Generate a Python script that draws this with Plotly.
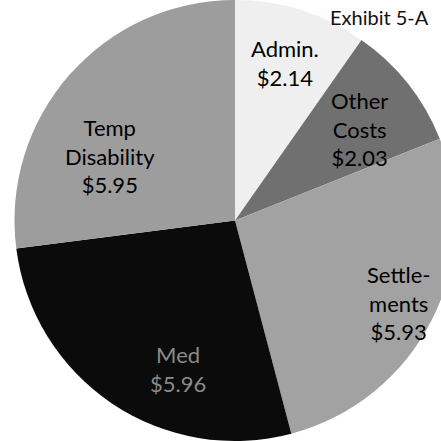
import math
import plotly.graph_objects as go

categories = ["Admin.", "Other<br>Costs", "Settle-<br>ments", "Med", "Temp<br>Disability"]
values = [2.14, 2.03, 5.93, 5.96, 5.95]
colors = ["#efefef", "#707070", "#a2a2a2", "#0b0b0b", "#9d9d9d"]
text_colors = ["#000000", "#000000", "#000000", "#8a8a8a", "#000000"]
title_text = "Exhibit 5-A"

# label placement styling (fraction of radius, angular shift in degrees)
label_radius = [0.75, 0.70, 0.83, 0.72, 0.64]
label_shift = [0, 2, 0, -13, -14]

W, H = 470, 441
fig = go.Figure(go.Pie(
    labels=categories,
    values=values,
    sort=False,
    direction="clockwise",
    rotation=0,
    marker=dict(colors=colors, line=dict(width=0)),
    textinfo="none",
    hoverinfo="label+value",
    showlegend=False,
    domain=dict(x=[0, 1], y=[0, 1]),
))

# labels placed at slice mid-angles derived from the data
total = sum(values)
R = min(W, H) / 2
cx, cy = W / 2, H / 2
annotations = []
cum = 0.0
for lab, v, tc, rf, sh in zip(categories, values, text_colors, label_radius, label_shift):
    mid = (cum + v / 2) / total * 360 + sh
    cum += v
    th = math.radians(mid)
    px = cx + rf * R * math.sin(th)
    py = cy - rf * R * math.cos(th)
    annotations.append(dict(
        text=f"{lab}<br>${v:.2f}", x=px / W, y=1 - py / H,
        xref="paper", yref="paper", showarrow=False,
        xanchor="center", yanchor="middle", align="center",
        font=dict(family="Lato", size=22, color=tc)))

annotations.append(dict(text=title_text, x=328 / W, y=1 - 3 / H,
                        xref="paper", yref="paper", showarrow=False,
                        xanchor="left", yanchor="top",
                        font=dict(family="Lato", size=20, color="#111")))

fig.update_layout(
    width=W, height=H,
    margin=dict(l=0, r=0, t=0, b=0),
    paper_bgcolor="white",
    annotations=annotations,
)

fig.write_html("out.html", config={"displayModeBar": False}, post_script=(
    "document.body.style.margin='0';"
    "document.body.style.overflow='hidden';"
    "document.documentElement.style.overflow='hidden';"
))
